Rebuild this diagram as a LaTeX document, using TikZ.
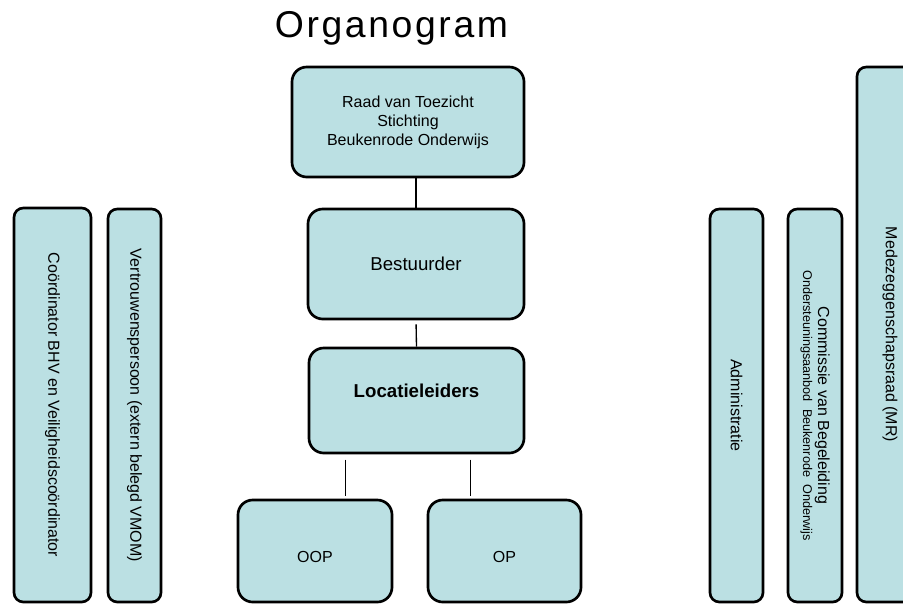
\documentclass[tikz,border=0pt]{standalone}
\usepackage{fontspec}
\setmainfont{Liberation Sans}
\usetikzlibrary{positioning,calc}
\definecolor{boxfill}{RGB}{187,224,227}
\tikzset{
	orgbox/.style={
		rectangle, rounded corners=11pt, line width=2pt,
		draw=black, fill=boxfill, align=center, inner sep=2pt,
		font=\fontsize{12}{14.25}\selectfont
	},
	%
	sidebox/.style={
		orgbox, rounded corners=7pt, rotate=-90
	},
	%
	link/.style={
		line width=1pt, draw=black
	}
}

\begin{document}
\begin{tikzpicture}[x=0.75pt, y=-0.75pt]
\useasboundingbox (0,0) rectangle (903,604);
\clip (0,0) rectangle (903,604);
\node(title)[anchor=base, font=\fontsize{28}{32}\selectfont\addfontfeature{LetterSpace=7}] at (391.5,37) {Organogram};
% middle column
\node(raad)[orgbox, minimum width=174pt, minimum height=82.5pt] at (408,122) {Raad van Toezicht\\Stichting\\Beukenrode Onderwijs};
\node(best)[orgbox, minimum width=162pt, minimum height=82.5pt, font=\fontsize{14}{16}\selectfont] at (416,264) {Bestuurder};
\node(loc)[orgbox, minimum width=161.25pt, minimum height=78.75pt, font=\fontsize{14}{16}\selectfont\bfseries, text depth=15pt] at (416.5,400.5) {Locatieleiders};
\node(oop)[orgbox, minimum width=115.5pt, minimum height=76.5pt, text height=18pt] at (315,551) {OOP};
\node(op)[orgbox, minimum width=114.75pt, minimum height=76.5pt, text height=18pt] at (504.5,551) {OP};
\draw[link] (best.north) -- (best.north |- raad.south);
\draw[link, shorten <=3pt] (best.south) -- (loc.north);
\coordinate (oopLink) at ($(loc.south west)!0.175!(loc.south east)$);
\coordinate (opLink) at ($(loc.south west)!0.747!(loc.south east)$);
\draw[link, shorten <=4pt, shorten >=2pt] (oopLink) -- (oopLink |- oop.north);
\draw[link, shorten <=4pt, shorten >=2pt] (opLink) -- (opLink |- op.north);
% side columns
\node(bhv)[sidebox, minimum width=295.5pt, minimum height=57.75pt] at (52.5,405) {Coördinator BHV en Veiligheidscoördinator};
\node(vp)[sidebox, minimum width=294.75pt, minimum height=39.75pt] at (134.5,405.5) {Vertrouwenspersoon (extern belegd VMOM)};
\node(adm)[sidebox, minimum width=294.75pt, minimum height=39.75pt] at (736.5,405.5) {Administratie};
\node(cvb)[sidebox, minimum width=294.75pt, minimum height=40.5pt, inner sep=1pt] at (815,405.5) {Commissie van Begeleiding\\[-3pt]{\fontsize{9.5}{11}\selectfont Ondersteuningsaanbod\ \ Beukenrode\ \ Onderwijs}};
\node(mr)[sidebox, minimum width=401.25pt, minimum height=49.5pt] at (890,334.5) {Medezeggenschapsraad (MR)};
\end{tikzpicture}
\end{document}
